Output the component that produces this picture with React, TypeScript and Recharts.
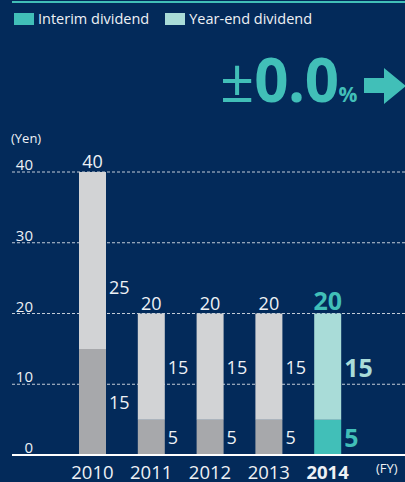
import React from "react";
import { BarChart, Bar, XAxis, YAxis, CartesianGrid, Cell, LabelList } from "recharts";

const years = ["2010", "2011", "2012", "2013", "2014"];
const interim = [15, 5, 5, 5, 5];
const yearEnd = [25, 15, 15, 15, 15];
const totals = [40, 20, 20, 20, 20];
const yTicks = [0, 10, 20, 30, 40];
const seriesNames = ["Interim dividend", "Year-end dividend"];
const changeSign = "±";
const changeValue = "0.0";

const BG = "#032a5a";
const TEAL = "#41bfb8";
const LIGHT_TEAL = "#a9dcd8";
const GREY_DARK = "#a7a8ab";
const GREY_LIGHT = "#d2d3d5";
const TEXT = "#eef1f5";
const FONT = "'Open Sans', 'Noto Sans', sans-serif";

const data = years.map((y, i) => ({
  year: y,
  interim: interim[i],
  yearEnd: yearEnd[i],
  total: totals[i],
}));

const lastIdx = years.length - 1;

const YTick = (props: any) => {
  const { y, payload } = props;
  return (
    <text x={33} y={y - 8} textAnchor="end" dominantBaseline="central" fill={TEXT} fontSize={15} fontFamily={FONT}>
      {payload.value}
    </text>
  );
};

const XTick = (props: any) => {
  const { x, y, payload, index } = props;
  const hi = index === lastIdx;
  return (
    <text x={x} y={y + 8} textAnchor="middle" dominantBaseline="central" fill={TEXT} fontSize={18.5} fontWeight={hi ? 700 : 400} fontFamily={FONT}>
      {payload.value}
    </text>
  );
};

const SideLabel = (kind: "interim" | "yearEnd") => (props: any) => {
  const { x, y, width, height, value, index } = props;
  const hi = index === lastIdx;
  let cy = y + height / 2;
  if (kind === "yearEnd") cy = Math.max(cy, y + height - 62);
  const color = hi ? (kind === "interim" ? TEAL : LIGHT_TEAL) : TEXT;
  return (
    <text x={x + width + 3} y={cy} textAnchor="start" dominantBaseline="central" fill={color} fontSize={hi ? 25 : 18} fontWeight={hi ? 700 : 400} fontFamily={FONT}>
      {value}
    </text>
  );
};

const TopLabel = (props: any) => {
  const { x, y, width, value, index } = props;
  const hi = index === lastIdx;
  return (
    <text x={x + width / 2} y={y - 4} textAnchor="middle" fill={hi ? TEAL : TEXT} fontSize={hi ? 25 : 18} fontWeight={hi ? 700 : 400} fontFamily={FONT}>
      {value}
    </text>
  );
};

const legendColors = [TEAL, LIGHT_TEAL];

export default function App() {
  return (
    <div style={{ position: "fixed", left: 0, top: 0, width: 405, height: 482, background: BG, overflow: "hidden" }}>
      <div style={{ position: "absolute", left: 12, top: 1, width: 393, height: 2, background: TEAL }} />
      <div style={{ position: "absolute", left: 14, top: 9, display: "flex", fontFamily: FONT, fontSize: 14.5, color: TEXT, whiteSpace: "nowrap" }}>
        {seriesNames.map((n, i) => (
          <div key={n} style={{ display: "flex", alignItems: "center", marginRight: i === 0 ? 16 : 0 }}>
            <span style={{ display: "inline-block", width: 20, height: 12, background: legendColors[i], marginRight: 4 }} />
            <span>{n}</span>
          </div>
        ))}
      </div>
      <div style={{ position: "absolute", left: 220, top: 49, fontFamily: FONT, color: TEAL, whiteSpace: "nowrap", lineHeight: 1 }}>
        <span style={{ fontSize: 60, fontWeight: 500 }}>{changeSign}</span>
        <span style={{ fontSize: 60, fontWeight: 700, letterSpacing: -0.5 }}>{changeValue}</span>
        <span style={{ fontSize: 21, fontWeight: 700 }}>%</span>
      </div>
      <svg style={{ position: "absolute", left: 0, top: 0, width: 405, height: 120 }} width={405} height={120} viewBox="0 0 405 120">
        <polygon points="364,78 384,78 384,68 406,86 384,104 384,93 364,93" fill={TEAL} />
      </svg>
      <div style={{ position: "absolute", left: 11, top: 129, fontFamily: FONT, fontSize: 13, color: TEXT }}>(Yen)</div>
      <div style={{ position: "absolute", left: 376, top: 459, fontFamily: FONT, fontSize: 13, color: TEXT }}>(FY)</div>
      <BarChart width={405} height={482} data={data} margin={{ top: 172, right: 0, left: 11, bottom: 0 }} barSize={27}>
        <CartesianGrid vertical={false} stroke="#c3ccd8" strokeDasharray="3 2" />
        <XAxis dataKey="year" height={27} padding={{ left: 51, right: 48 }} axisLine={{ stroke: "#ffffff", strokeWidth: 2 }} tickLine={false} tick={<XTick />} interval={0} />
        <YAxis width={1} domain={[0, 40]} ticks={yTicks} axisLine={false} tickLine={false} tick={<YTick />} interval={0} />
        <Bar dataKey="interim" stackId="a" isAnimationActive={false}>
          {data.map((d, i) => (
            <Cell key={d.year} fill={i === lastIdx ? TEAL : GREY_DARK} />
          ))}
          <LabelList dataKey="interim" content={SideLabel("interim")} />
        </Bar>
        <Bar dataKey="yearEnd" stackId="a" isAnimationActive={false}>
          {data.map((d, i) => (
            <Cell key={d.year} fill={i === lastIdx ? LIGHT_TEAL : GREY_LIGHT} />
          ))}
          <LabelList dataKey="yearEnd" content={SideLabel("yearEnd")} />
          <LabelList dataKey="total" content={TopLabel} />
        </Bar>
      </BarChart>
    </div>
  );
}
